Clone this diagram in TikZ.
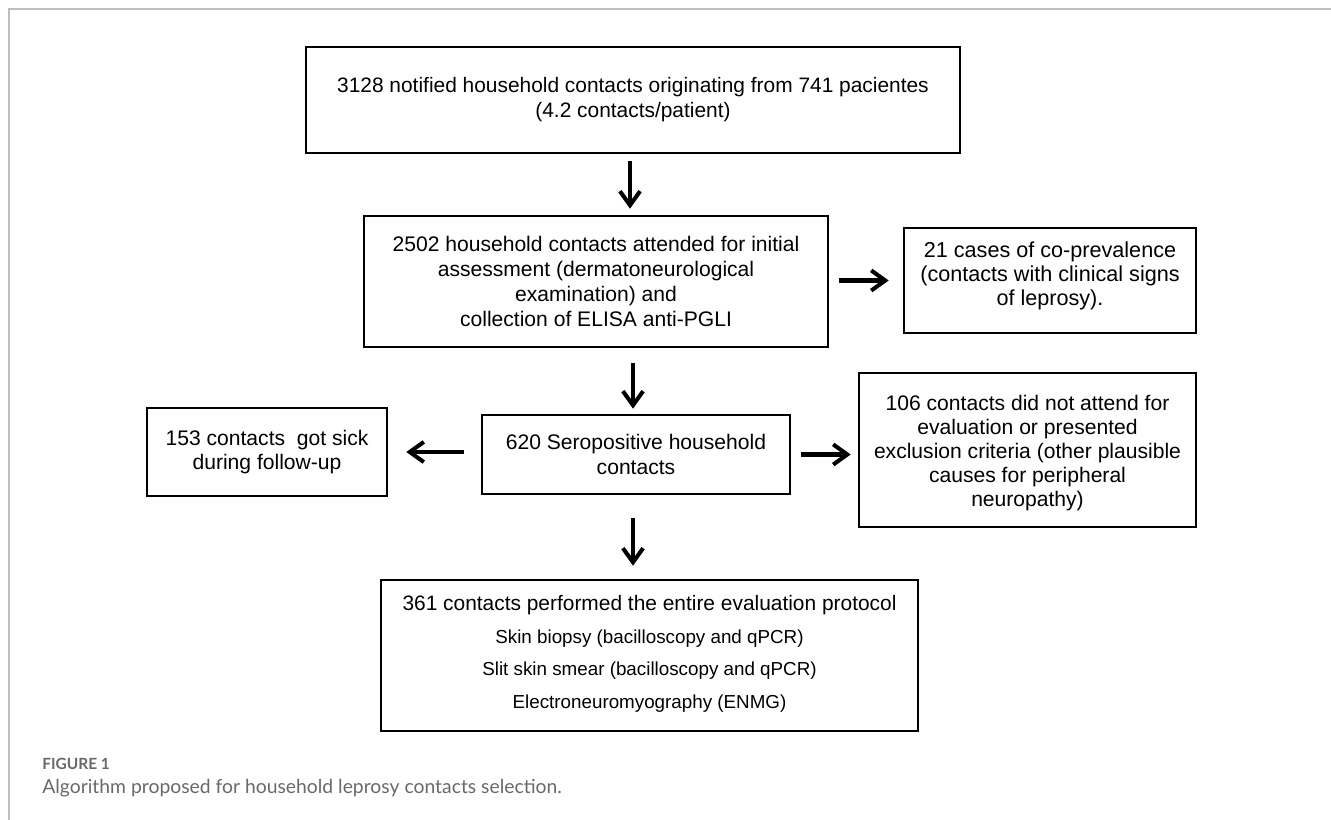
\documentclass[tikz,border=0pt]{standalone}
\usepackage{fontspec}
\setmainfont{Liberation Sans}
\newfontfamily\capfont{Lato}
\usepackage{xcolor}
\usepackage{tikz}
\usetikzlibrary{arrows.meta, positioning, calc}
\definecolor{framegray}{RGB}{190,190,190}
\definecolor{capgray}{RGB}{105,105,105}

\begin{document}
\begin{tikzpicture}[
  x=0.02cm, y=-0.02cm,
  box/.style={draw, line width=1.5pt, align=center, inner sep=0pt,
              font=\fontsize{12}{14}\selectfont},
  arrow/.style={-{Straight Barb[length=8pt, width=11.5pt]}, line width=2.3pt},
  caption/.style={anchor=base west, inner sep=0pt, text=capgray},
]
\useasboundingbox (0,0) rectangle (1331,820);
% frame of the figure panel
\draw[framegray, line width=1pt] (9,820) -- (9,9) -- (1331,9);

\node[box, minimum width=13.08cm, minimum height=2.12cm,
      font=\fontsize{11.9}{14.2}\selectfont] (notified) at (633,100)
  {3128 notified household contacts originating from 741 pacientes\\(4.2 contacts/patient)};
\node[box, minimum width=9.28cm, minimum height=2.62cm,
      font=\fontsize{12}{14.4}\selectfont] (attended) at (596,281.5)
  {2502 household contacts attended for initial\\assessment (dermatoneurological\\examination) and\\collection of ELISA anti-PGLI};
\node[box, minimum width=5.84cm, minimum height=2.1cm,
      font=\fontsize{12.3}{13.7}\selectfont] (coprev) at (1050,280.5)
  {21 cases of co-prevalence\\(contacts with clinical signs\\of leprosy).\\[-6.3pt]\mbox{}};
\node[box, minimum width=6.16cm, minimum height=1.58cm] (seropos) at (636,454.5)
  {620 Seropositive household\\contacts};
\node[box, minimum width=4.8cm, minimum height=1.76cm] (sick) at (267,452)
  {153 contacts\ \ got sick\\during follow-up};
\node[box, minimum width=6.74cm, minimum height=3.08cm,
      font=\fontsize{12}{13.7}\selectfont] (excluded) at (1027.5,450)
  {\mbox{}\\[-1.6pt]106 contacts did not attend for\\evaluation or presented\\exclusion criteria (other plausible\\causes for peripheral\\neuropathy)};
\node[box, minimum width=10.74cm, minimum height=3.02cm,
      font=\fontsize{10.7}{18.7}\selectfont] (protocol) at (649.5,655.5)
  {{\fontsize{11.9}{18.7}\selectfont 361 contacts performed the entire evaluation protocol}\\
   Skin biopsy (bacilloscopy and qPCR)\\
   Slit skin smear (bacilloscopy and qPCR)\\
   Electroneuromyography (ENMG)\\[-14.7pt]\mbox{}};

\draw[arrow, shorten <=0.14cm, shorten >=0.12cm]
  ([xshift=-0.06cm]notified.south) -- ([xshift=-0.06cm]notified.south |- attended.north);
\draw[arrow, shorten <=0.2cm, shorten >=0.28cm] (attended.east |- coprev.west) -- (coprev.west);
\draw[arrow, shorten <=0.3cm, shorten >=0.1cm]
  ([xshift=-0.06cm]seropos.north |- attended.south) -- ([xshift=-0.06cm]seropos.north);
\draw[arrow, shorten <=0.34cm, shorten >=0.36cm] (seropos.west |- sick.east) -- (sick.east);
\draw[arrow, shorten <=0.2cm, shorten >=0.14cm] (seropos.east) -- (seropos.east -| excluded.west);
\draw[arrow, shorten <=0.46cm, shorten >=0.26cm]
  ([xshift=-0.06cm]seropos.south) -- ([xshift=-0.06cm]seropos.south |- protocol.north);

\node[caption, font=\capfont\bfseries\fontsize{8.8}{10}\selectfont] (figlabel) at (42,769) {FIGURE 1};
\node[caption, font=\capfont\fontsize{11}{13}\selectfont] (figtext) at (42,793)
  {Algorithm proposed for household leprosy contacts selection.};
\end{tikzpicture}
\end{document}
